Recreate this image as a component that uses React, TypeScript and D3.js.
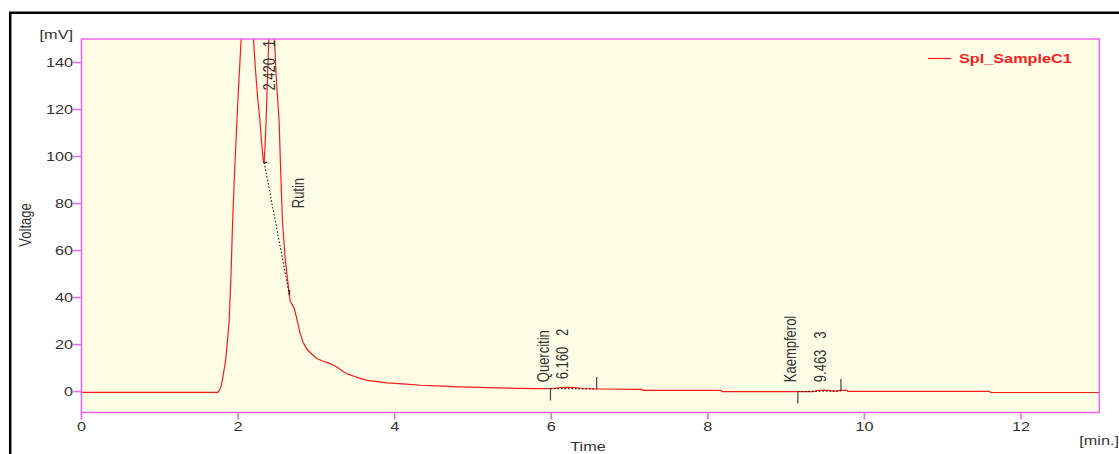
import React, { useEffect, useRef } from 'react';
import * as d3 from 'd3';

// chromatogram trace, time [min] / signal [mV]
const times = [
  0, 1.7, 1.74, 1.76, 1.78, 1.8, 1.82, 1.84, 1.86, 1.886, 1.91, 1.93, 1.955, 1.985,
  2.01, 2.03, 2.06, 2.1, 2.14, 2.17, 2.196, 2.22, 2.25, 2.28, 2.3, 2.323, 2.333,
  2.345, 2.358, 2.375, 2.392, 2.42, 2.44, 2.464, 2.49, 2.524, 2.545, 2.566, 2.6,
  2.643, 2.656, 2.665, 2.69, 2.716, 2.735, 2.758, 2.79, 2.83, 2.88, 2.94, 3.0, 3.08,
  3.15, 3.22, 3.28, 3.34, 3.4, 3.48, 3.56, 3.65, 3.78, 3.9, 4.1, 4.34, 4.6, 4.83,
  5.2, 5.56, 5.9, 6.05, 6.12, 6.2, 6.3, 6.4, 6.6, 7.16, 7.17, 8.17, 8.18, 9.35,
  9.4, 9.48, 9.56, 9.6, 9.66, 9.68, 9.78, 9.79, 11.6, 11.61, 13.0,
];
const voltages = [
  -0.3, -0.3, -0.3, 0.5, 2, 5, 9, 13, 20, 30, 50, 72, 93, 115,
  132, 144, 165, 180, 178, 165, 150, 138, 125, 115, 106, 98, 97.5,
  105, 115, 133, 150, 170, 162, 150, 132, 115, 93, 73, 57,
  44.5, 41, 38.5, 37, 35.5, 33, 30, 25, 21, 18, 16, 14.2, 13,
  12.2, 11.2, 10, 8.5, 7.4, 6.5, 5.6, 4.8, 4.2, 3.7, 3.3, 2.7, 2.3, 2.0,
  1.7, 1.4, 1.3, 1.4, 1.7, 1.8, 1.7, 1.3, 1.1, 0.9, 0.55, 0.5, 0.0, 0.0,
  0.4, 0.6, 0.4, 0.2, 0.2, 0.5, 0.5, 0.1, 0.1, -0.4, -0.4,
];

const xTicks = [0, 2, 4, 6, 8, 10, 12];
const yTicks = [0, 20, 40, 60, 80, 100, 120, 140];

// integrated peaks
const peakNumbers = [1, 2, 3];
const peakTimes = [2.42, 6.16, 9.463];
const peakApex = [170, 1.8, 0.6];
const peakStartTimes = [2.333, 5.99, 9.15];
const peakStartLevels = [97.5, 1.3, 0.0];
const peakEndTimes = [2.656, 6.58, 9.7];
const peakEndLevels = [41, 1.1, 0.3];

// compound names
const compoundNames = ['Rutin', 'Quercitin', 'Kaempferol'];
const compoundTimes = [2.84, 5.97, 9.12];
const compoundLevels = [78, 4, 4];

const seriesName = 'Spl_SampleC1';

const App = () => {
  const ref = useRef<SVGSVGElement>(null);

  useEffect(() => {
    const svg = d3.select(ref.current);
    svg.selectAll('*').remove();

    const left = 81.5;
    const right = 1099.3;
    const top = 39;
    const bottom = 412.5;
    const pink = '#f064f0';
    const red = '#ff1a1a';
    const font = '"Liberation Sans", Arial, sans-serif';

    const x = d3.scaleLinear().domain([0, 13]).range([left, right]);
    const y = d3.scaleLinear().domain([-8.9, 150]).range([bottom, top]);

    // text is drawn slightly stretched horizontally, like the original
    const addText = (
      str: string,
      tx: number,
      ty: number,
      anchor: string,
      rotate = false,
      fill = '#333',
      bold = false
    ) =>
      svg
        .append('text')
        .attr('transform', `translate(${tx},${ty}) scale(1.25,1)${rotate ? ' rotate(-90)' : ''}`)
        .attr('text-anchor', anchor)
        .style('font-family', font)
        .style('font-size', '13px')
        .style('font-weight', bold ? 'bold' : 'normal')
        .style('white-space', 'pre')
        .style('fill', fill)
        .text(str);

    // outer black frame
    svg.append('line').attr('x1', 9).attr('x2', 1119).attr('y1', 12.8).attr('y2', 12.8)
      .attr('stroke', '#000').attr('stroke-width', 2.5);
    svg.append('line').attr('x1', 10.2).attr('x2', 10.2).attr('y1', 12).attr('y2', 454)
      .attr('stroke', '#000').attr('stroke-width', 2.5);

    // plot background
    svg.append('rect')
      .attr('x', left).attr('y', top)
      .attr('width', right - left).attr('height', bottom - top)
      .attr('fill', '#fdfde6');

    svg.append('clipPath').attr('id', 'plot-clip')
      .append('rect')
      .attr('x', left).attr('y', top)
      .attr('width', right - left).attr('height', bottom - top);

    const plot = svg.append('g').attr('clip-path', 'url(#plot-clip)');

    // trace
    const points = times.map((t, i) => [t, voltages[i]] as [number, number]);
    const line = d3.line<[number, number]>().x((d) => x(d[0])).y((d) => y(d[1]));
    plot.append('path')
      .datum(points)
      .attr('d', line)
      .attr('fill', 'none')
      .attr('stroke', red)
      .attr('stroke-width', 1.2);

    // peak baselines and markers
    peakNumbers.forEach((n, i) => {
      const xs = x(peakStartTimes[i]);
      const ys = y(peakStartLevels[i]);
      const xe = x(peakEndTimes[i]);
      const ye = y(peakEndLevels[i]);
      const len = i === 0 ? 5 : 12;
      plot.append('line')
        .attr('x1', xs).attr('y1', ys).attr('x2', xe).attr('y2', ye)
        .attr('stroke', '#000').attr('stroke-width', 1).attr('stroke-dasharray', '1.5 2');
      if (i === 0) {
        plot.append('line').attr('x1', xs - 1).attr('x2', xs + 3).attr('y1', ys).attr('y2', ys)
          .attr('stroke', '#333').attr('stroke-width', 1.5);
        plot.append('line').attr('x1', xe).attr('x2', xe).attr('y1', ye - len).attr('y2', ye)
          .attr('stroke', '#333').attr('stroke-width', 1.5);
      } else {
        plot.append('line').attr('x1', xs).attr('x2', xs).attr('y1', ys).attr('y2', ys + len)
          .attr('stroke', '#444').attr('stroke-width', 1.2);
        plot.append('line').attr('x1', xe).attr('x2', xe).attr('y1', ye - len).attr('y2', ye)
          .attr('stroke', '#444').attr('stroke-width', 1.2);
      }

      // retention time + peak number
      const label = `${peakTimes[i].toFixed(3)}   ${n}`;
      const lx = x(peakTimes[i]) + 4;
      if (peakApex[i] > y.domain()[1]) {
        addText(label, lx, top + 1, 'end', true);
      } else {
        addText(label, lx, y(peakApex[i]) - 8, 'start', true);
      }

      // compound name
      addText(compoundNames[i], x(compoundTimes[i]), y(compoundLevels[i]), 'start', true);
    });

    // plot frame
    svg.append('rect')
      .attr('x', left).attr('y', top)
      .attr('width', right - left).attr('height', bottom - top)
      .attr('fill', 'none').attr('stroke', pink).attr('stroke-width', 1.5);

    // x axis
    xTicks.forEach((t) => {
      svg.append('line').attr('x1', x(t)).attr('x2', x(t)).attr('y1', bottom).attr('y2', bottom + 7)
        .attr('stroke', pink).attr('stroke-width', 1.5);
      addText(String(t), x(t), 431, 'middle');
    });

    // y axis
    yTicks.forEach((v) => {
      svg.append('line').attr('x1', left - 8.5).attr('x2', left).attr('y1', y(v)).attr('y2', y(v))
        .attr('stroke', pink).attr('stroke-width', 1.5);
      addText(String(v), 73, y(v) + 4.7, 'end');
    });

    // axis titles
    addText('[mV]', 73, 38.5, 'end');
    addText('Voltage', 31, 225, 'middle', true);
    addText('Time', 588, 451, 'middle');
    addText('[min.]', 1119, 445, 'end');

    // legend
    svg.append('line').attr('x1', 928).attr('x2', 951).attr('y1', 58.5).attr('y2', 58.5)
      .attr('stroke', red).attr('stroke-width', 1.2);
    addText(seriesName, 959, 63, 'start', false, red, true);
  }, []);

  return (
    <svg
      ref={ref}
      width={1119}
      height={454}
      style={{ position: 'absolute', left: 0, top: 0, display: 'block', background: '#fff' }}
    />
  );
};

export default App;
